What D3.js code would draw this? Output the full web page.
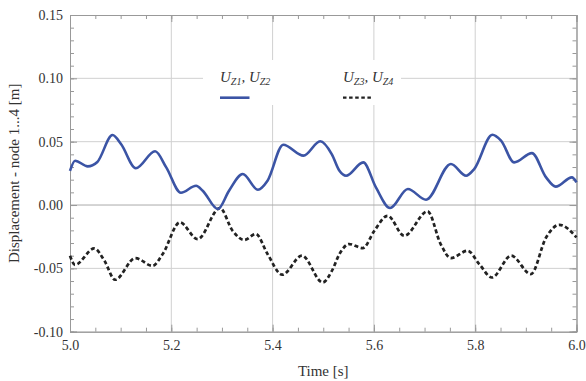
<!DOCTYPE html>
<html>
<head>
<meta charset="utf-8">
<script src="https://cdn.jsdelivr.net/npm/d3@7"></script>
<style>
  body { margin: 0; background: #fff; }
  svg text { font-family: "Liberation Serif", "DejaVu Serif", serif; fill: #333; }
</style>
</head>
<body>
<div id="chart"></div>
<script>
// tiempos y desplazamientos
const timeZ12 = [5.000, 5.010, 5.035, 5.054, 5.084, 5.101, 5.130, 5.168, 5.190, 5.219, 5.249, 5.262,
  5.292, 5.314, 5.341, 5.371, 5.390, 5.421, 5.461, 5.494, 5.517, 5.532, 5.545, 5.579, 5.604, 5.632,
  5.667, 5.703, 5.752, 5.782, 5.798, 5.834, 5.851, 5.877, 5.912, 5.940, 5.959, 5.991, 6.000];
const uZ12 = [0.027, 0.035, 0.0305, 0.034, 0.0553, 0.048, 0.029, 0.0424, 0.0297, 0.0097, 0.0152, 0.0113,
  -0.0032, 0.0113, 0.0245, 0.0121, 0.0192, 0.0476, 0.039, 0.0503, 0.040, 0.027, 0.0231, 0.0337, 0.0139, -0.0024,
  0.0126, 0.0042, 0.0324, 0.0231, 0.0284, 0.0555, 0.0508, 0.0337, 0.041, 0.0218, 0.0145, 0.0218, 0.0179];

const timeZ34 = [5.000, 5.010, 5.048, 5.068, 5.089, 5.129, 5.163, 5.183, 5.217, 5.252, 5.296, 5.321,
  5.344, 5.367, 5.390, 5.419, 5.458, 5.499, 5.517, 5.532, 5.551, 5.578, 5.601, 5.627, 5.660, 5.706,
  5.732, 5.752, 5.785, 5.808, 5.833, 5.871, 5.910, 5.940, 5.966, 6.000];
const uZ34 = [-0.040, -0.0472, -0.0343, -0.044, -0.059, -0.0419, -0.048, -0.0387, -0.0137, -0.0269, -0.0024, -0.0203,
  -0.0276, -0.0229, -0.0387, -0.055, -0.040, -0.0611, -0.052, -0.0387, -0.0308, -0.034, -0.0203, -0.0085, -0.0243, -0.005,
  -0.031, -0.0419, -0.0361, -0.0466, -0.0572, -0.040, -0.0545, -0.0256, -0.0156, -0.0256];

const xTicks = [5.0, 5.2, 5.4, 5.6, 5.8, 6.0];
const yTicks = [-0.10, -0.05, 0.00, 0.05, 0.10, 0.15];
const xGrid = [5.2, 5.4, 5.6, 5.8];
const yGrid = [-0.05, 0.05, 0.10];

const width = 586, height = 381;
const margin = {top: 15, right: 9.5, bottom: 49.3, left: 70};
const innerW = width - margin.left - margin.right;
const innerH = height - margin.top - margin.bottom;

const svg = d3.select("#chart").append("svg")
  .attr("width", width)
  .attr("height", height);

const g = svg.append("g").attr("transform", `translate(${margin.left},${margin.top})`);

const x = d3.scaleLinear().domain([5, 6]).range([0, innerW]);
const y = d3.scaleLinear().domain([-0.10, 0.15]).range([innerH, 0]);

// rejilla
g.selectAll("line.vgrid").data(xGrid).join("line")
  .attr("x1", d => x(d)).attr("x2", d => x(d))
  .attr("y1", 0).attr("y2", innerH)
  .attr("stroke", "#d0d0d0").attr("stroke-width", 1);
g.selectAll("line.hgrid").data(yGrid).join("line")
  .attr("x1", 0).attr("x2", innerW)
  .attr("y1", d => y(d)).attr("y2", d => y(d))
  .attr("stroke", "#d0d0d0").attr("stroke-width", 1);
// linea del cero un poco mas oscura
g.append("line")
  .attr("x1", 0).attr("x2", innerW)
  .attr("y1", y(0)).attr("y2", y(0))
  .attr("stroke", "#aaa").attr("stroke-width", 1);

// fondo blanco de la leyenda (tapa la rejilla)
g.append("rect")
  .attr("x", 203 - margin.left).attr("y", 60 - margin.top)
  .attr("width", 198).attr("height", 45)
  .attr("fill", "#fff");

// ejes con ticks hacia adentro
const fmtX = d => d.toFixed(1);
const fmtY = d => d.toFixed(2);
const minorX = x.ticks(20);
const minorY = y.ticks(25);

function styleAxis(sel) {
  sel.select(".domain").attr("stroke", "#999");
  sel.selectAll(".tick line").attr("stroke", "#999");
  sel.selectAll("text").attr("font-size", 14).attr("fill", "#333")
    .attr("font-family", '"Liberation Serif", serif');
}

// ticks menores
g.append("g").attr("transform", `translate(0,${innerH})`)
  .call(d3.axisBottom(x).tickValues(minorX).tickSize(-4).tickFormat(""))
  .call(styleAxis);
g.append("g")
  .call(d3.axisTop(x).tickValues(minorX).tickSize(-4).tickFormat(""))
  .call(styleAxis);
g.append("g")
  .call(d3.axisLeft(y).tickValues(minorY).tickSize(-4).tickFormat(""))
  .call(styleAxis);
g.append("g").attr("transform", `translate(${innerW},0)`)
  .call(d3.axisRight(y).tickValues(minorY).tickSize(-4).tickFormat(""))
  .call(styleAxis);

// ticks mayores con etiquetas
g.append("g").attr("transform", `translate(0,${innerH})`)
  .call(d3.axisBottom(x).tickValues(xTicks).tickSize(-7).tickPadding(8).tickFormat(fmtX))
  .call(styleAxis);
g.append("g")
  .call(d3.axisTop(x).tickValues(xTicks).tickSize(-7).tickFormat(""))
  .call(styleAxis);
g.append("g")
  .call(d3.axisLeft(y).tickValues(yTicks).tickSize(-7).tickPadding(7).tickFormat(fmtY))
  .call(styleAxis);
g.append("g").attr("transform", `translate(${innerW},0)`)
  .call(d3.axisRight(y).tickValues(yTicks).tickSize(-7).tickFormat(""))
  .call(styleAxis);

// curvas
const line = d3.line()
  .x(d => x(d[0]))
  .y(d => y(d[1]))
  .curve(d3.curveMonotoneX);

const ptsZ12 = timeZ12.map((t, i) => [t, uZ12[i]]);
const ptsZ34 = timeZ34.map((t, i) => [t, uZ34[i]]);

g.append("path")
  .datum(ptsZ34)
  .attr("fill", "none")
  .attr("stroke", "#222")
  .attr("stroke-width", 2.7)
  .attr("stroke-dasharray", "4,2.6")
  .attr("d", line);

g.append("path")
  .datum(ptsZ12)
  .attr("fill", "none")
  .attr("stroke", "#3b54a5")
  .attr("stroke-width", 2.6)
  .attr("stroke-linejoin", "round")
  .attr("d", line);

// leyenda
function legendLabel(px, a, b) {
  const t = svg.append("text")
    .attr("x", px).attr("y", 82)
    .attr("font-size", 15).attr("font-style", "italic");
  t.append("tspan").text("U");
  t.append("tspan").attr("font-size", 10).attr("dy", 3).text(a);
  t.append("tspan").attr("dy", -3).text(", U");
  t.append("tspan").attr("font-size", 10).attr("dy", 3).text(b);
}
legendLabel(220, "Z1", "Z2");
legendLabel(343, "Z3", "Z4");

svg.append("line")
  .attr("x1", 220).attr("x2", 249.5).attr("y1", 97.7).attr("y2", 97.7)
  .attr("stroke", "#3b54a5").attr("stroke-width", 2.6);
svg.append("line")
  .attr("x1", 343).attr("x2", 372).attr("y1", 97.7).attr("y2", 97.7)
  .attr("stroke", "#222").attr("stroke-width", 2.2)
  .attr("stroke-dasharray", "3.5,2.6");

// titulos de ejes
svg.append("text")
  .attr("x", margin.left + innerW / 2).attr("y", 376)
  .attr("text-anchor", "middle").attr("font-size", 15)
  .text("Time [s]");

svg.append("text")
  .attr("transform", `translate(19,${margin.top + innerH / 2}) rotate(-90)`)
  .attr("text-anchor", "middle").attr("font-size", 15)
  .text("Displacement - node 1...4 [m]");
</script>
</body>
</html>
